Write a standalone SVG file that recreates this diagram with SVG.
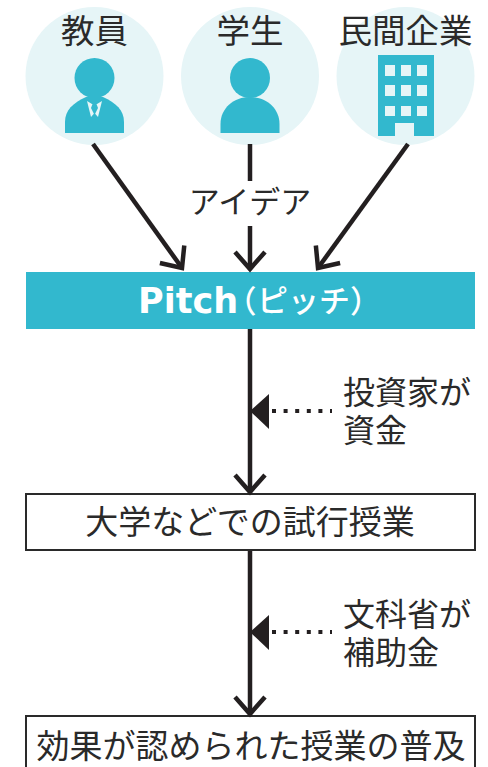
<svg xmlns="http://www.w3.org/2000/svg" width="488" height="767" viewBox="0 0 488 767">
<style>
.t{font-family:"Liberation Sans","Noto Sans CJK JP",sans-serif;fill:#2a2a2a;font-weight:400}
.c{fill:#e6f5f7}
.i{fill:#32b8ce}
.l{fill:none;stroke:#231f20;stroke-width:4.500}
.box{fill:#fff;stroke:#2a2a2a;stroke-width:2}
.d{fill:none;stroke:#231f20;stroke-width:4;stroke-dasharray:4 7.600}
.p{font-family:"DejaVu Sans",sans-serif;font-weight:700;font-size:35px;fill:#fff}
.k{font-family:"Noto Sans CJK JP",sans-serif;font-weight:500;font-size:31px;fill:#fff}
.pa{font-feature-settings:"palt"}
</style>
<defs>
<marker id="a" markerUnits="userSpaceOnUse" markerWidth="40" markerHeight="40" refX="33" refY="20" orient="auto">
<path d="M16 5 L33 20 L16 35" fill="none" stroke="#231f20" stroke-width="4.500"/>
</marker>
</defs>
<rect width="488" height="767" fill="#fff"/>
<g id="teacher">
<circle class="c" cx="94.500" cy="76" r="69"/>
<circle class="i" cx="94.500" cy="78" r="20"/>
<path class="i" d="M65 133 V122 C65 110 73 103 86 97 H103 C116 103 124 110 124 122 V133 Z"/>
<path d="M87 101 L91 117 L94.500 113 L98 117 L102 101 L97 104 H92 Z" fill="#e6f5f7"/>
<path class="i" d="M92.500 104 H96.500 L98 108 L94.500 115 L91 108 Z"/>
<text class="t" x="94.500" y="43" font-size="33.500" text-anchor="middle">教員</text>
</g>
<g id="student">
<circle class="c" cx="250" cy="76" r="69"/>
<circle class="i" cx="250" cy="78" r="20"/>
<path class="i" d="M220.500 133 V124 C220.500 108 234 97 250 97 C266 97 279.500 108 279.500 124 V133 Z"/>
<text class="t" x="250" y="43" font-size="33.500" text-anchor="middle">学生</text>
</g>
<g id="company">
<circle class="c" cx="405.500" cy="76" r="69"/>
<path class="i" d="M378 55 H434 V136 H414 V123 H395 V136 H378 Z"/>
<g fill="#e6f5f7">
<rect x="385" y="65" width="10" height="11"/><rect x="401" y="65" width="10" height="11"/><rect x="417" y="65" width="10" height="11"/>
<rect x="385" y="85" width="10" height="11"/><rect x="401" y="85" width="10" height="11"/><rect x="417" y="85" width="10" height="11"/>
<rect x="385" y="106" width="10" height="10"/><rect x="401" y="106" width="10" height="10"/><rect x="417" y="106" width="10" height="10"/>
</g>
<text class="t" x="405.500" y="43" font-size="33.500" text-anchor="middle">民間企業</text>
</g>
<g id="pitch">
<rect class="i" x="26" y="272" width="449" height="57"/>
<text y="313"><tspan class="p" x="138">Pitch</tspan><tspan class="k pa" x="240" y="312">（</tspan><tspan class="k" x="257" y="312">ピッチ）</tspan></text>
</g>
<g id="trial">
<rect class="box" x="26" y="494" width="449" height="56"/>
<text class="t" x="250" y="534" font-size="33" text-anchor="middle">大学などでの試行授業</text>
</g>
<g id="spread">
<rect class="box" x="26" y="716" width="449" height="60"/>
<text class="t" x="251" y="758" font-size="33" text-anchor="middle">効果が認められた授業の普及</text>
</g>
<g id="labels">
<text class="t" x="250" y="213" font-size="31" text-anchor="middle">アイデア</text>
<text class="t" font-size="32"><tspan x="343" y="404">投資家が</tspan><tspan x="343" y="442">資金</tspan></text>
<text class="t" font-size="32"><tspan x="343" y="626">文科省が</tspan><tspan x="343" y="664">補助金</tspan></text>
</g>
<g id="connectors">
<path class="l" d="M93 144 L182 268" marker-end="url(#a)"/>
<path class="l" d="M250 144 V181"/>
<path class="l" d="M250 226 V269" marker-end="url(#a)"/>
<path class="l" d="M408 144 L318 268" marker-end="url(#a)"/>
<path class="l" d="M250 329 V492" marker-end="url(#a)"/>
<path class="l" d="M250 551 V714" marker-end="url(#a)"/>
<path d="M269 394 V429 L250 411 Z" fill="#231f20"/>
<path d="M269 615 V650 L250 632 Z" fill="#231f20"/>
<path class="d" d="M272 411 H332"/>
<path class="d" d="M272 632 H332"/>
</g>
</svg>
